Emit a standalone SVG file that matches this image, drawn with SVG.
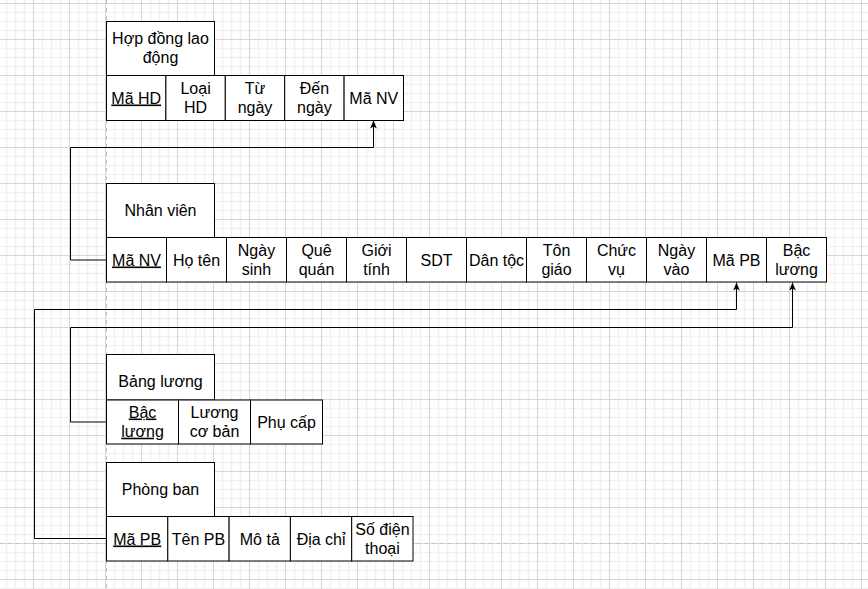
<svg xmlns="http://www.w3.org/2000/svg" width="868" height="589" viewBox="0 0 868 589">
<style>
text{font-family:"Liberation Sans",Arial,sans-serif;font-size:16px;fill:#000;text-anchor:middle}
.b{fill:#fff;stroke:#000;stroke-width:1}
.u{text-decoration:underline}
.c{fill:none;stroke:#000;stroke-width:1}
.pg{fill:none;stroke:#c4c4c4;stroke-width:1;stroke-dasharray:4 4}
</style>
<defs>
<pattern id="grid" patternUnits="userSpaceOnUse" x="33" y="3" width="36" height="36">
<path d="M9.5 0V36M18.5 0V36M27.5 0V36M0 9.5H36M0 18.5H36M0 27.5H36" stroke="#f1f1f1" stroke-width="1.5" fill="none"/>
<path d="M0.5 0V36M0 0.5H36" stroke="#d6d6d6" stroke-width="1" fill="none"/>
</pattern>
<marker id="ar" viewBox="0 0 10 10" refX="10" refY="5" markerWidth="8" markerHeight="8" markerUnits="userSpaceOnUse" orient="auto">
<path d="M0,0.8 L10,5 L0,9.2 L2.5,5 Z" fill="#000"/>
</marker>
</defs>
<rect width="868" height="589" fill="#fff"/>
<rect width="868" height="589" fill="url(#grid)"/>
<path class="pg" d="M106.5 0V589"/>
<path class="pg" d="M0 543.5H868"/>

<g id="connectors">
<path class="c" d="M106,260 H70.5 V147.5 H373.5 V120.5" marker-end="url(#ar)"/>
<path class="c" d="M106,538.5 H34.5 V309.5 H736.5 V282.5" marker-end="url(#ar)"/>
<path class="c" d="M106,422 H70.5 V327.5 H792.5 V282.5" marker-end="url(#ar)"/>
</g>

<g id="hopdong">
<rect class="b" x="106.5" y="21.5" width="108" height="54"/>
<text x="160.5" y="43.5">Hợp đồng lao</text>
<text x="160.5" y="62.7">động</text>
<rect class="b" x="106.5" y="75.5" width="59.4" height="45"/>
<rect class="b" x="165.9" y="75.5" width="59.4" height="45"/>
<rect class="b" x="225.3" y="75.5" width="59.4" height="45"/>
<rect class="b" x="284.7" y="75.5" width="59.4" height="45"/>
<rect class="b" x="344.1" y="75.5" width="59.4" height="45"/>
<text class="u" x="136.2" y="103.5">Mã HD</text>
<text x="195.6" y="94">Loại</text>
<text x="195.6" y="113.2">HD</text>
<text x="255" y="94">Từ</text>
<text x="255" y="113.2">ngày</text>
<text x="314.4" y="94">Đến</text>
<text x="314.4" y="113.2">ngày</text>
<text x="373.8" y="103.5">Mã NV</text>
</g>

<g id="nhanvien">
<rect class="b" x="106.5" y="183.5" width="108" height="54"/>
<text x="160.5" y="215.8">Nhân viên</text>
<rect class="b" x="106.5" y="237.5" width="60" height="44.5"/>
<rect class="b" x="166.5" y="237.5" width="60" height="44.5"/>
<rect class="b" x="226.5" y="237.5" width="60" height="44.5"/>
<rect class="b" x="286.5" y="237.5" width="60" height="44.5"/>
<rect class="b" x="346.5" y="237.5" width="60" height="44.5"/>
<rect class="b" x="406.5" y="237.5" width="60" height="44.5"/>
<rect class="b" x="466.5" y="237.5" width="60" height="44.5"/>
<rect class="b" x="526.5" y="237.5" width="60" height="44.5"/>
<rect class="b" x="586.5" y="237.5" width="60" height="44.5"/>
<rect class="b" x="646.5" y="237.5" width="60" height="44.5"/>
<rect class="b" x="706.5" y="237.5" width="60" height="44.5"/>
<rect class="b" x="766.5" y="237.5" width="60" height="44.5"/>
<text class="u" x="136.5" y="265.5">Mã NV</text>
<text x="196.5" y="265.5">Họ tên</text>
<text x="256.5" y="256">Ngày</text>
<text x="256.5" y="275.2">sinh</text>
<text x="316.5" y="256">Quê</text>
<text x="316.5" y="275.2">quán</text>
<text x="376.5" y="256">Giới</text>
<text x="376.5" y="275.2">tính</text>
<text x="436.5" y="265.5">SDT</text>
<text x="496.5" y="265.5">Dân tộc</text>
<text x="556.5" y="256">Tôn</text>
<text x="556.5" y="275.2">giáo</text>
<text x="616.5" y="256">Chức</text>
<text x="616.5" y="275.2">vụ</text>
<text x="676.5" y="256">Ngày</text>
<text x="676.5" y="275.2">vào</text>
<text x="736.5" y="265.5">Mã PB</text>
<text x="796.5" y="256">Bậc</text>
<text x="796.5" y="275.2">lương</text>
</g>

<g id="bangluong">
<rect class="b" x="106.5" y="354.5" width="108" height="45.5"/>
<text x="160.5" y="386.8">Bảng lương</text>
<rect class="b" x="106.5" y="400" width="72" height="44"/>
<rect class="b" x="178.5" y="400" width="72" height="44"/>
<rect class="b" x="250.5" y="400" width="72" height="44"/>
<text class="u" x="142.5" y="417.5">Bậc</text>
<text class="u" x="142.5" y="436.7">lương</text>
<text x="214.5" y="417.5">Lương</text>
<text x="214.5" y="436.7">cơ bản</text>
<text x="286.5" y="427.5">Phụ cấp</text>
</g>

<g id="phongban">
<rect class="b" x="106.5" y="462.5" width="108" height="54"/>
<text x="160.5" y="495">Phòng ban</text>
<rect class="b" x="106.5" y="516.5" width="61.3" height="44.5"/>
<rect class="b" x="167.8" y="516.5" width="61.3" height="44.5"/>
<rect class="b" x="229.1" y="516.5" width="61.3" height="44.5"/>
<rect class="b" x="290.4" y="516.5" width="61.3" height="44.5"/>
<rect class="b" x="351.7" y="516.5" width="61.3" height="44.5"/>
<text class="u" x="137.2" y="544.5">Mã PB</text>
<text x="198.5" y="544.5">Tên PB</text>
<text x="259.8" y="544.5">Mô tả</text>
<text x="321.1" y="544.5">Địa chỉ</text>
<text x="382.4" y="535">Số điện</text>
<text x="382.4" y="554.2">thoại</text>
</g>
</svg>
